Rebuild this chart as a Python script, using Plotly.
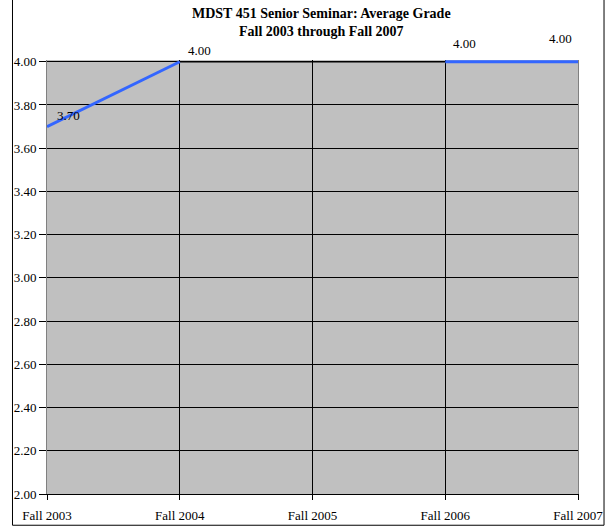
import plotly.graph_objects as go

terms = ["Fall 2003", "Fall 2004", "Fall 2005", "Fall 2006", "Fall 2007"]
grades = [3.70, 4.00, None, 4.00, 4.00]
y_ticks = [2.00, 2.20, 2.40, 2.60, 2.80, 3.00, 3.20, 3.40, 3.60, 3.80, 4.00]
label_shift_x = [21, 20, None, 19, -18]
label_shift_y = [11, 11, None, 18, 23]

xs = list(range(len(terms)))
font = "Liberation Serif, Times New Roman, serif"

fig = go.Figure()

# thin black bridge across the missing term
i0, i1 = 1, 3
fig.add_trace(go.Scatter(x=[xs[i0], xs[i1]], y=[grades[i0], grades[i1]],
                         mode="lines", line=dict(color="black", width=1.5),
                         hoverinfo="skip", showlegend=False, cliponaxis=False))

fig.add_trace(go.Scatter(x=xs, y=grades, mode="lines",
                         line=dict(color="#3366FF", width=3),
                         connectgaps=False, showlegend=False, cliponaxis=False))

for i, g in enumerate(grades):
    if g is None:
        continue
    fig.add_annotation(x=xs[i], y=g, text=f"{g:.2f}", showarrow=False,
                       xshift=label_shift_x[i], yshift=label_shift_y[i],
                       font=dict(family=font, size=13, color="black"))

fig.add_annotation(xref="paper", yref="paper", x=0.517, y=1.128,
                   xanchor="center", yanchor="top", showarrow=False,
                   text="<b>MDST 451 Senior Seminar: Average Grade</b><br><b>Fall 2003 through Fall 2007</b>",
                   font=dict(family=font, size=14, color="black"))

fig.add_shape(type="rect", xref="paper", yref="paper",
              x0=-0.065, x1=1.049, y0=-0.072, y1=1.2,
              line=dict(color="black", width=1), fillcolor="rgba(0,0,0,0)", layer="below")

fig.update_layout(
    width=610, height=527,
    margin=dict(l=47, r=32, t=60, b=33),
    paper_bgcolor="white", plot_bgcolor="#C0C0C0",
    font=dict(family=font, size=13, color="black"),
)

fig.update_xaxes(range=[0, 4], tickvals=xs, ticktext=terms, showgrid=True,
                 gridcolor="black", gridwidth=1, zeroline=False,
                 showline=True, linecolor="black", linewidth=1,
                 ticks="outside", ticklen=5, tickcolor="black",
                 ticklabelstandoff=4, automargin=False,
                 tickfont=dict(family=font, size=13), mirror=False)
fig.update_yaxes(range=[2, 4.008], tickvals=y_ticks, ticktext=[f"{v:.2f}" for v in y_ticks],
                 showgrid=True, gridcolor="black", gridwidth=1, zeroline=False,
                 showline=True, linecolor="#808080", linewidth=1, mirror=True,
                 ticks="outside", ticklen=7, tickcolor="black", automargin=False,
                 tickfont=dict(family=font, size=13))

fig.write_html("out.html", config={"displayModeBar": False},
               post_script="document.body.style.margin='0';document.body.style.padding='0';")
